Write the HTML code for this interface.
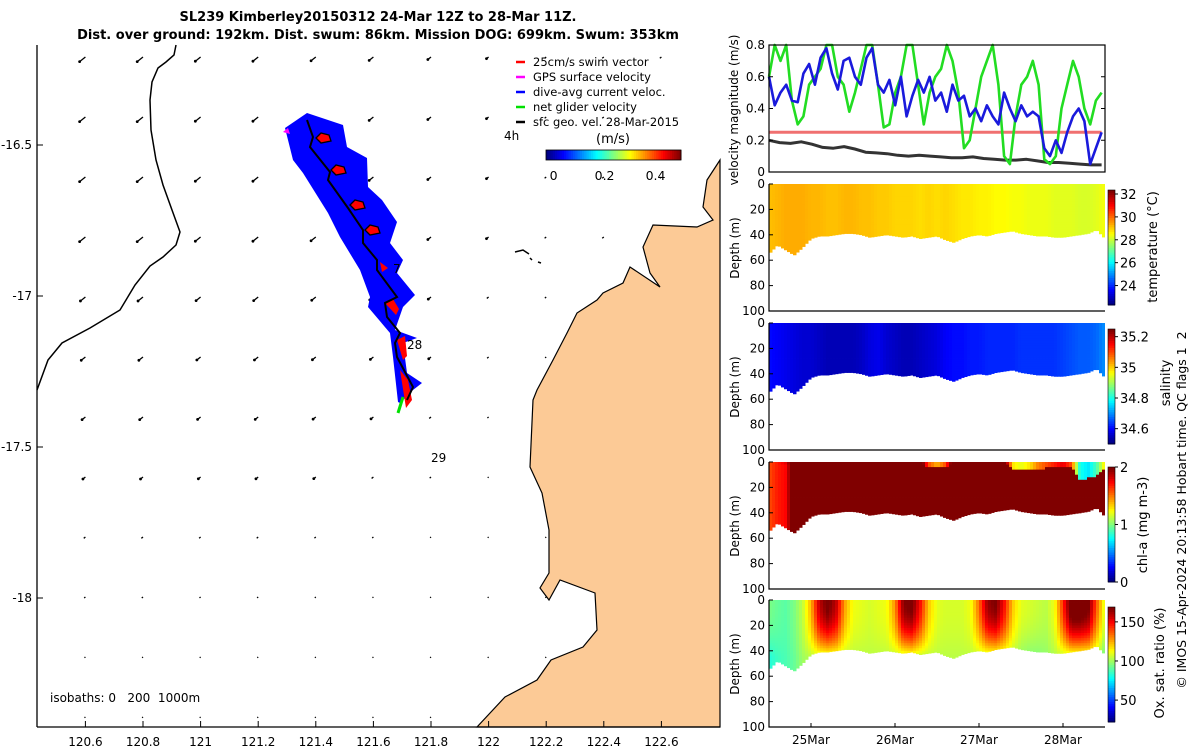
<!DOCTYPE html>
<html><head><meta charset="utf-8">
<style>
html,body{margin:0;padding:0;background:#fff;}
svg{display:block;font-family:"DejaVu Sans","Liberation Sans",sans-serif;}
</style></head>
<body>
<svg id="chart" width="1200" height="750" viewBox="0 0 1200 750" xmlns="http://www.w3.org/2000/svg">
<g font-weight="bold" font-size="13" text-anchor="middle">
<text x="378" y="21">SL239 Kimberley20150312 24-Mar 12Z to 28-Mar 11Z.</text>
<text x="378" y="39">Dist. over ground: 192km. Dist. swum: 86km. Mission DOG: 699km. Swum: 353km</text>
</g>
<g id="map"></g>
<g id="right"></g>
</svg>
<script>
// ---------- DATA ----------
const mapLonTicks=[120.6,120.8,121,121.2,121.4,121.6,121.8,122,122.2,122.4,122.6];
const mapLatTicks=[-16.5,-17,-17.5,-18];
const quiverRowLen=[7,7,7,7,6,5,4,3,2,1.5,1,1];
const quiverColFactor=[1.1,1.1,1,1,0.9,0.8,0.6,0.4,0.3,0.3,0.3];
const legendLabels=["25cm/s swim vector","GPS surface velocity","dive-avg current veloc.","net glider velocity","sfc geo. vel. 28-Mar-2015"];
const legendColors=["#ff0000","#ff00ff","#0000ff","#00e000","#000000"];
const mapCbTicks=[0,0.2,0.4];

const velTicks=[0,0.2,0.4,0.6,0.8];
const dateTicks=[25,26,27,28];
const dateLabels=["25Mar","26Mar","27Mar","28Mar"];
const blueVel=[0.6,0.42,0.5,0.55,0.45,0.44,0.62,0.68,0.55,0.72,0.78,0.62,0.52,0.7,0.72,0.6,0.55,0.72,0.78,0.55,0.5,0.58,0.42,0.6,0.35,0.48,0.58,0.5,0.6,0.45,0.5,0.38,0.55,0.45,0.48,0.35,0.4,0.32,0.42,0.35,0.3,0.5,0.4,0.32,0.42,0.35,0.38,0.35,0.15,0.1,0.2,0.12,0.25,0.35,0.4,0.32,0.05,0.15,0.25];
const greenVel=[0.6,0.8,0.7,0.8,0.45,0.3,0.35,0.55,0.6,0.65,0.8,0.8,0.6,0.55,0.38,0.5,0.65,0.8,0.8,0.55,0.28,0.3,0.5,0.6,0.8,0.8,0.55,0.3,0.5,0.6,0.65,0.8,0.7,0.5,0.15,0.2,0.4,0.6,0.7,0.8,0.55,0.1,0.05,0.35,0.55,0.6,0.7,0.55,0.08,0.05,0.1,0.4,0.55,0.7,0.6,0.4,0.3,0.45,0.5];
const swimVel=[0.25,0.25];
const geoVel=[0.2,0.185,0.18,0.19,0.175,0.155,0.15,0.16,0.145,0.125,0.12,0.115,0.105,0.1,0.105,0.1,0.095,0.09,0.09,0.095,0.085,0.08,0.075,0.075,0.08,0.07,0.06,0.06,0.055,0.05,0.045,0.045];

const depthTicks=[0,20,40,60,80,100];
const bottomDepth=[55,48,52,56,50,43,41,41,40,39,39,40,42,41,40,41,42,41,43,42,41,44,46,43,41,40,41,39,38,37,39,40,41,41,42,42,41,40,39,36,43];
const tempVals=[29.2,29.3,29.4,29.4,29.4,29.3,29.3,29.2,29.2,29.3,29.3,29.2,29.2,29.1,29.1,29.0,29.0,29.0,28.9,29.0,28.9,29.0,28.9,28.8,28.8,28.7,28.7,28.6,28.6,28.5,28.5,28.4,28.4,28.4,28.3,28.3,28.3,28.2,28.2,28.3,28.5];
const salVals=[34.6,34.59,34.58,34.57,34.56,34.56,34.55,34.54,34.54,34.54,34.54,34.55,34.57,34.58,34.56,34.55,34.54,34.54,34.55,34.56,34.57,34.59,34.6,34.6,34.61,34.61,34.62,34.62,34.62,34.62,34.63,34.63,34.63,34.63,34.63,34.64,34.65,34.66,34.66,34.67,34.7];
const chlDeep=[1.6,1.7,1.75,2.2,2.2,2.2,2.2,2.2,2.2,2.2,2.2,2.2,2.2,2.2,2.2,2.2,2.2,2.2,2.2,2.2,2.2,2.2,2.2,2.2,2.2,2.2,2.2,2.2,2.2,2.2,2.2,2.2,2.2,2.2,2.2,2.2,2.2,2.2,2.2,2.2,2.2];
const chlSurf=[1.6,1.7,1.8,2.2,2.2,2.2,2.2,2.2,2.2,2.2,2.2,2.2,2.2,2.2,2.2,2.2,2.2,2.2,2.2,1.6,1.4,1.6,2.2,2.2,2.2,2.2,2.2,2.2,2.2,1.3,1.2,1.3,1.5,1.6,1.7,1.8,1.6,0.8,0.7,0.9,1.3];
const chlSurfDepth=[0,0,0,0,0,0,0,0,0,0,0,0,0,0,0,0,0,0,0,3,3,3,0,0,0,0,0,0,0,4,5,5,4,4,3,3,3,13,12,10,4];
const oxSurf=[95,92,90,95,105,125,160,172,160,128,112,110,108,110,112,130,168,172,150,122,110,108,108,108,112,135,165,170,150,122,110,108,106,104,112,145,178,178,172,138,108];
const oxDeep=[82,86,88,92,100,104,106,106,106,104,104,104,104,104,104,104,104,106,104,104,104,104,104,104,104,104,104,104,104,102,98,96,96,98,102,104,104,104,104,102,92];

// ---------- HELPERS ----------
const NS="http://www.w3.org/2000/svg";
function mk(tag,attrs,parent){const e=document.createElementNS(NS,tag);for(const k in attrs)e.setAttribute(k,attrs[k]);parent.appendChild(e);return e;}
function jet(x){x=Math.max(0,Math.min(1,x));const c=v=>Math.round(255*Math.max(0,Math.min(1,v)));
 return `rgb(${c(1.5-Math.abs(4*x-3))},${c(1.5-Math.abs(4*x-2))},${c(1.5-Math.abs(4*x-1))})`;}
function interp(arr,f){const i=Math.max(0,Math.min(arr.length-1,f));const a=Math.floor(i),b=Math.min(arr.length-1,a+1),w=i-a;return arr[a]*(1-w)+arr[b]*w;}

// ---------- MAP ----------
const map=document.getElementById('map');
const lonX=lon=>85.4+(lon-120.6)/0.2*57.6;
const latY=lat=>145+(-16.5-lat)/0.5*151;
for(let r=0;r<quiverRowLen.length;r++){
 for(let c=0;c<quiverColFactor.length;c++){
  const x=85.4+c*57.6, y=57+r*60, L=Math.max(1.2,quiverRowLen[r]*quiverColFactor[c]);
  const dx=-L*0.75, dy=L*0.6;
  const a=mk('line',{x1:x,y1:y,x2:x+dx,y2:y+dy,stroke:'#000','stroke-width':1.3},map);
  
  
  if(L>2.5){const h=mk('circle',{cx:x+dx,cy:y+dy,r:1.4,fill:'#000'},map);
   
   }
 }
}
mk('polyline',{points:"176,45 174,55 166,62 158,68 152,82 150,100 151,130 156,160 163,185 172,210 180,232 176,245 163,257 150,266 135,285 120,310 90,328 62,343 48,360 37,390",fill:'none',stroke:'#000','stroke-width':1.5,},map);
mk('polygon',{points:"720,160 707,180 703,207 713,220 697,227 653,225 643,247 650,273 660,287 630,267 623,283 603,293 597,300 577,313 567,333 553,360 537,390 533,400 530,467 542,493 549,530 549,573 540,588 549,600 560,580 595,593 597,630 583,647 551,660 537,680 505,697 477,727 720,727",fill:'#fcca96',stroke:'#000','stroke-width':1.2,},map);
mk('path',{d:"M515,252 l8,-2 l6,4 M530,258 l2,2 M538,262 l3,1",stroke:'#000','stroke-width':1.5,fill:'none',},map);
mk('polygon',{points:"285,128 307,113 343,125 347,147 367,158 368,187 382,200 397,222 390,243 403,260 397,273 415,295 403,307 395,330 417,338 403,343 407,373 422,383 413,390 400,403 398,402 393,357 390,333 368,307 370,297 360,270 340,237 328,213 303,173 293,160",fill:'#0000ff',},map);
mk('polygon',{points:"283,132 288,128 290,134",fill:'#ff00ff',},map);
mk('path',{d:"M385,303 l8,-4 l6,10 l-3,6 Z M397,340 l8,-4 l2,20 l-4,4 Z M400,370 l8,10 l4,20 l-6,8 Z M380,262 l8,6 l-6,4 Z",fill:'#ff0000',},map);
[[323,138],[338,170],[357,205],[372,230]].forEach(p=>{
 const e=mk('polygon',{points:`${p[0]-7},${p[1]} ${p[0]-2},${p[1]-5} ${p[0]+6},${p[1]-3} ${p[0]+8},${p[1]+3} ${p[0]-2},${p[1]+5}`,fill:'#ff0000',stroke:'#000','stroke-width':1.3},map);
 
 
});
mk('line',{x1:403,y1:397,x2:398,y2:413,stroke:'#00e000','stroke-width':3,},map);
mk('polyline',{points:"307,120 313,137 310,147 330,172 328,180 348,208 363,230 363,243 377,260 377,270 397,297 385,303 387,317 400,333 395,343 397,357 413,387 407,400",fill:'none',stroke:'#000','stroke-width':2,},map);
[["4h",504,140],["7",393,273],["28",407,349],["29",431,462]].forEach(t=>{
 const e=mk('text',{x:t[1],y:t[2],'font-size':12},map);e.textContent=t[0];
 
 
});
mk('line',{x1:37,y1:45,x2:37,y2:727,stroke:'#000','stroke-width':1.3,},map);
mk('line',{x1:37,y1:727,x2:720,y2:727,stroke:'#000','stroke-width':1.3,},map);
mapLonTicks.forEach(v=>{
 const x=lonX(v);
 const tk=mk('line',{x1:x,y1:727,x2:x,y2:721,stroke:'#000'},map);
 
 
 const t=mk('text',{x:x,y:746,'font-size':12,'text-anchor':'middle'},map);t.textContent=String(v);
 
 
});
mapLatTicks.forEach(v=>{
 const y=latY(v);
 const tk=mk('line',{x1:37,y1:y,x2:43,y2:y,stroke:'#000'},map);
 
 
 const t=mk('text',{x:32,y:y+4,'font-size':12,'text-anchor':'end'},map);t.textContent=String(v);
 
 
});
{const t=mk('text',{x:50,y:702,'font-size':12,style:'white-space:pre',},map);t.textContent="isobaths: 0   200  1000m";}
legendLabels.forEach((s,i)=>{
 const y=62+i*15;
 const m=mk('line',{x1:516,y1:y,x2:525,y2:y,stroke:legendColors[i],'stroke-width':2.5},map);
 
 
 const t=mk('text',{x:533,y:y+4,'font-size':11.5},map);t.textContent=s;
 
 
});
{const x0=546,x1=681,cbMin=-0.03,cbMax=0.5;
 for(let i=0;i<60;i++){const e=mk('rect',{x:x0+i*(x1-x0)/60,y:150,width:(x1-x0)/60+0.5,height:10,fill:jet(i/59)},map);
  
  }
 mk('rect',{x:x0,y:150,width:x1-x0,height:10,fill:'none',stroke:'#000','stroke-width':0.8,},map);
 mapCbTicks.forEach(v=>{const x=x0+(v-cbMin)/(cbMax-cbMin)*(x1-x0);
  const t=mk('text',{x:x,y:180,'font-size':12.5,'text-anchor':'middle'},map);t.textContent=String(v);
  
  });
 const t=mk('text',{x:613,y:143,'font-size':13,'text-anchor':'middle',},map);t.textContent="(m/s)";
}

// ---------- RIGHT PANELS ----------
const R=document.getElementById('right');
const X0=769,X1=1105;
const tX=t=>X0+(t-24.5)*84;
{const top=45,bot=172;const vY=v=>bot-v/0.8*(bot-top);
 const tEnd=28.46;
 function series(arr,color,w,name){const pts=arr.map((v,i)=>`${tX(24.5+i*(tEnd-24.5)/(arr.length-1)).toFixed(1)},${vY(Math.min(0.8,v)).toFixed(1)}`).join(' ');
  const e=mk('polyline',{points:pts,fill:'none',stroke:color,'stroke-width':w,'stroke-linejoin':'round'},R);
  
  }
 series(swimVel,'#f07070',3,'swim-speed-line');
 series(geoVel,'#333',3,'geostrophic-velocity-line');
 series(greenVel,'#22dd22',2.6,'net-glider-velocity-line');
 series(blueVel,'#1a1adc',2.6,'dive-avg-current-line');
 mk('rect',{x:X0,y:top,width:X1-X0,height:bot-top,fill:'none',stroke:'#000','stroke-width':1.2,},R);
 velTicks.forEach(v=>{const y=vY(v);
  const a=mk('line',{x1:X0,y1:y,x2:X0+4,y2:y,stroke:'#000'},R);
  const b=mk('line',{x1:X1,y1:y,x2:X1-4,y2:y,stroke:'#000'},R);
  const t=mk('text',{x:765,y:y+4,'font-size':12,'text-anchor':'end'},R);t.textContent=String(v);
  
  });
 const t=mk('text',{x:0,y:0,'font-size':12,'text-anchor':'middle',transform:'translate(738,110) rotate(-90)',},R);t.textContent="velocity magnitude (m/s)";
}
const PX=3;
function section(top,name,colorFn,cbMin,cbMax,cbTicks,cbTop,cbBot,label,labelX,labelCY,cellFn){
 const bot=top+127;const dY=d=>top+d*1.27;
 for(let x=X0;x<X1;x+=PX){
  const f=((x+PX/2-X0)/84)/0.1;
  const bd=interp(bottomDepth,f);
  for(let d=0;d<bd;d+=2){
   const d2=Math.min(bd,d+2);
   const e=mk('rect',{x:x,y:dY(d),width:Math.min(PX+0.5,X1-x),height:dY(d2)-dY(d)+0.4,fill:colorFn(cellFn(f,d+1))},R);
   
   
  }
 }
 mk('polyline',{points:`${X0},${top} ${X0},${bot} ${X1},${bot}`,fill:'none',stroke:'#000','stroke-width':1.2,},R);
 depthTicks.forEach(v=>{const y=dY(v);
  const a=mk('line',{x1:X0,y1:y,x2:X0+4,y2:y,stroke:'#000'},R);
  const t=mk('text',{x:765,y:y+4,'font-size':12,'text-anchor':'end'},R);t.textContent=String(v);
  
  });
 const yl=mk('text',{x:0,y:0,'font-size':12,'text-anchor':'middle',transform:`translate(739,${top+64}) rotate(-90)`},R);yl.textContent="Depth (m)";
 
 
 const n=50;
 for(let i=0;i<n;i++){const e=mk('rect',{x:1108,y:cbBot-(i+1)*(cbBot-cbTop)/n,width:7,height:(cbBot-cbTop)/n+0.5,fill:jet(i/(n-1))},R);
  
  }
 mk('rect',{x:1108,y:cbTop,width:7,height:cbBot-cbTop,fill:'none',stroke:'#000','stroke-width':0.6,},R);
 cbTicks.forEach(v=>{const y=cbBot-(v-cbMin)/(cbMax-cbMin)*(cbBot-cbTop);
  const a=mk('line',{x1:1115,y1:y,x2:1118,y2:y,stroke:'#000'},R);
  const t=mk('text',{x:1120,y:y+5,'font-size':13},R);t.textContent=String(v);
  
  });
 const cl=mk('text',{x:0,y:0,'font-size':13,'text-anchor':'middle',transform:`translate(${labelX},${labelCY}) rotate(-90)`},R);cl.textContent=label;
 
 
}
const cm=(mn,mx)=>v=>jet((v-mn)/(mx-mn));
section(184,'temperature',cm(22.3,32.35),22.3,32.35,[24,26,28,30,32],190,305,"temperature (°C)",1157,247,(f,d)=>interp(tempVals,f));
section(323,'salinity',cm(34.5,35.25),34.5,35.25,[34.6,34.8,35,35.2],329,444,"salinity",1170,383,(f,d)=>interp(salVals,f));
section(462,'chlorophyll',cm(0,2),0,2,[0,1,2],467,582,"chl-a (mg m-3)",1147,525,(f,d)=>d<=interp(chlSurfDepth,f)+1?interp(chlSurf,f):interp(chlDeep,f));
section(600,'oxygen',cm(22,169),22,169,[50,100,150],607,722,"Ox. sat. ratio (%)",1164,663,(f,d)=>{const w=Math.max(0,1-Math.pow(d/45,2));const dp=interp(oxDeep,f);return dp+(interp(oxSurf,f)-dp)*w;});
dateTicks.forEach((v,i)=>{const x=tX(v);
 const a=mk('line',{x1:x,y1:727,x2:x,y2:723,stroke:'#000'},R);
 const t=mk('text',{x:x,y:744,'font-size':12,'text-anchor':'middle'},R);t.textContent=dateLabels[i];
 
 });
{const t=mk('text',{x:0,y:0,'font-size':12.5,'text-anchor':'middle',style:'white-space:pre',transform:'translate(1186,510) rotate(-90)',},R);t.textContent="© IMOS 15-Apr-2024 20:13:58 Hobart time. QC flags 1  2";}
</script>
</body></html>
